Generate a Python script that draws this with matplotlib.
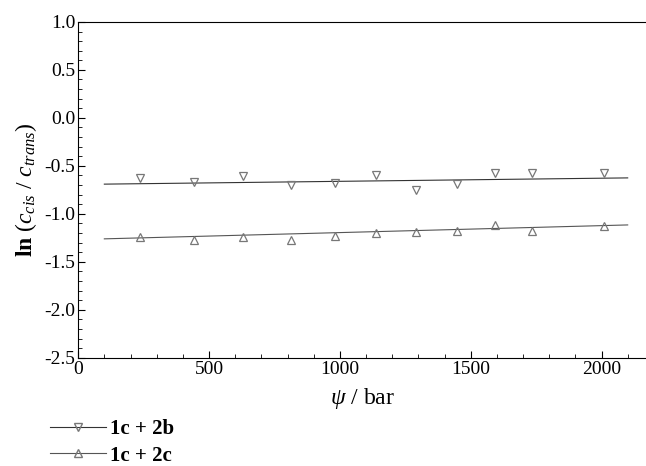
import matplotlib
matplotlib.use("Agg")
import matplotlib.pyplot as plt
import numpy as np
from matplotlib.ticker import MultipleLocator

pressure = [237, 443, 630, 813, 981, 1137, 1290, 1447, 1592, 1733, 2011]
ln_2b = [-0.625, -0.667, -0.604, -0.698, -0.677, -0.594, -0.75, -0.688, -0.573, -0.573, -0.573]
ln_2c = [-1.24, -1.27, -1.24, -1.27, -1.23, -1.198, -1.19, -1.18, -1.115, -1.18, -1.125]
fit_x = [100, 2100]
fit_2b = [-0.69, -0.625]
fit_2c = [-1.26, -1.115]

plt.rcParams['font.family'] = ['Liberation Serif', 'DejaVu Serif']
plt.rcParams['mathtext.fontset'] = 'custom'
plt.rcParams['mathtext.rm'] = 'Liberation Serif'
plt.rcParams['mathtext.it'] = 'Liberation Serif:italic'
plt.rcParams['mathtext.bf'] = 'Liberation Serif:bold'

fig = plt.figure(figsize=(6.46, 4.66), dpi=100)
ax = fig.add_axes([0.121, 0.232, 0.879, 0.721])

ax.plot(fit_x, fit_2b, color='#333333', lw=0.8)
ax.plot(fit_x, fit_2c, color='#555555', lw=0.8)
ax.plot(pressure, ln_2b, linestyle='none', marker='v', ms=5.5, mfc='none',
        mec='#777777', mew=0.9)
ax.plot(pressure, ln_2c, linestyle='none', marker='^', ms=5.5, mfc='none',
        mec='#777777', mew=0.9)

ax.set_xlim(0, 2170)
ax.set_ylim(-2.5, 1.0)
ax.xaxis.set_major_locator(MultipleLocator(500))
ax.xaxis.set_minor_locator(MultipleLocator(100))
ax.yaxis.set_major_locator(MultipleLocator(0.5))
ax.yaxis.set_minor_locator(MultipleLocator(0.1))
ax.tick_params(which='both', direction='in', top=False, right=False, labelsize=14, pad=2)
ax.tick_params(which='major', length=5)
ax.tick_params(which='minor', length=3)
ax.spines['right'].set_visible(False)
ax.yaxis.set_major_formatter(matplotlib.ticker.FormatStrFormatter('%.1f'))

ax.set_ylabel(r'$\mathbf{ln}\ (c_{cis}\ /\ c_{trans})$', fontsize=17, labelpad=4)
ax.set_xlabel(r'$\psi$ / bar', fontsize=17, labelpad=6)

# legend below the plot
handles = [
    matplotlib.lines.Line2D([], [], color='#333333', lw=0.8, marker='v', ms=5.5,
                            mfc='none', mec='#777777'),
    matplotlib.lines.Line2D([], [], color='#555555', lw=0.8, marker='^', ms=5.5,
                            mfc='none', mec='#777777'),
]
leg = fig.legend(handles, ['1c + 2b', '1c + 2c'], loc='upper left',
                 bbox_to_anchor=(0.077, 0.10), frameon=False, handlelength=2.7,
                 handletextpad=0.2, labelspacing=0.3,
                 prop={'family': 'Liberation Serif', 'weight': 'bold', 'size': 15},
                 borderaxespad=0, borderpad=0)

fig.savefig('out.png', dpi=100)
